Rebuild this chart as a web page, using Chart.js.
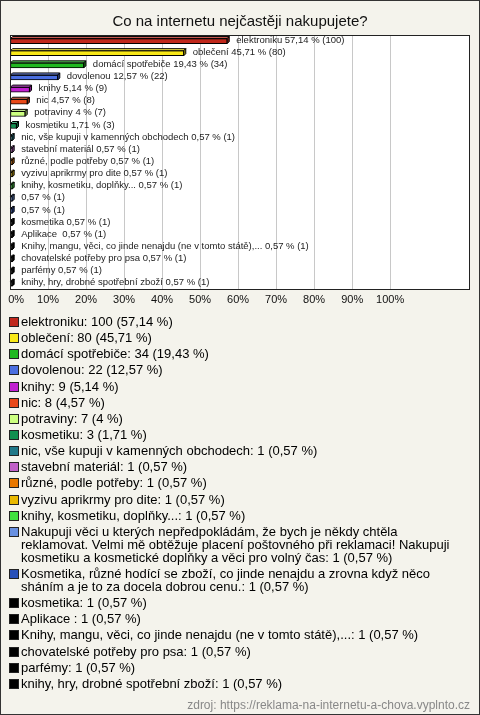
<!DOCTYPE html>
<html>
<head>
<meta charset="utf-8">
<script src="https://cdn.jsdelivr.net/npm/chart.js@4/dist/chart.umd.min.js"></script>
<style>
  html, body { margin: 0; padding: 0; background: #fff; }
  #frame { position: relative; width: 478px; height: 713px; border: 1px solid #333; background: #f4f3ec; overflow: hidden; font-family: Arial, "Liberation Sans", sans-serif; }
  #chartBox { position: absolute; left: -1px; top: -1px; width: 480px; height: 316px; }
  #legend { position: absolute; left: 7px; top: 314px; width: 460px; font-size: 13px; line-height: 13px; color: #000; }
  .item { display: flex; align-items: flex-start; margin-bottom: 3.15px; }
  .mk { flex: 0 0 auto; width: 8px; height: 8px; border: 1px solid #222; margin: 2px 2px 0 1px; }
  .tx { flex: 1 1 auto; }
  #source { position: absolute; right: 9px; top: 697px; font-size: 12px; color: #888; }
</style>
</head>
<body>
<div id="frame">
  <div id="chartBox"><canvas id="c"></canvas></div>
  <div id="legend"></div>
  <div id="source">zdroj: https://reklama-na-internetu-a-chova.vyplnto.cz</div>
</div>
<script>
// ---- data ----
const title = "Co na internetu nejčastěji nakupujete?";
const categories = [
  "elektroniku", "oblečení", "domácí spotřebiče", "dovolenou", "knihy", "nic", "potraviny", "kosmetiku",
  "nic, vše kupuji v kamenných obchodech", "stavební materiál", "různé, podle potřeby", "vyzivu aprikrmy pro dite",
  "knihy, kosmetiku, doplňky...",
  "Nakupuji věci u kterých nepředpokládám, že bych je někdy chtěla reklamovat. Velmi mě obtěžuje placení poštovného při reklamaci! Nakupuji kosmetiku a kosmetické doplňky a věci pro volný čas",
  "Kosmetika, různé hodící se zboží, co jinde nenajdu a zrovna když něco sháním a je to za docela dobrou cenu.",
  "kosmetika", "Aplikace ", "Knihy, mangu, věci, co jinde nenajdu (ne v tomto státě),...",
  "chovatelské potřeby pro psa", "parfémy", "knihy, hry, drobné spotřební zboží"
];
const barLabels = [
  "elektroniku", "oblečení", "domácí spotřebiče", "dovolenou", "knihy", "nic", "potraviny", "kosmetiku",
  "nic, vše kupuji v kamenných obchodech", "stavební materiál", "různé, podle potřeby", "vyzivu aprikrmy pro dite",
  "knihy, kosmetiku, doplňky...", "", "", "kosmetika", "Aplikace ", "Knihy, mangu, věci, co jinde nenajdu (ne v tomto státě),...",
  "chovatelské potřeby pro psa", "parfémy", "knihy, hry, drobné spotřební zboží"
];
const counts = [100, 80, 34, 22, 9, 8, 7, 3, 1, 1, 1, 1, 1, 1, 1, 1, 1, 1, 1, 1, 1];
const percents = [57.14, 45.71, 19.43, 12.57, 5.14, 4.57, 4, 1.71, 0.57, 0.57, 0.57, 0.57, 0.57, 0.57, 0.57, 0.57, 0.57, 0.57, 0.57, 0.57, 0.57];
const percentText = ["57,14", "45,71", "19,43", "12,57", "5,14", "4,57", "4", "1,71", "0,57", "0,57", "0,57", "0,57", "0,57", "0,57", "0,57", "0,57", "0,57", "0,57", "0,57", "0,57", "0,57"];
const colors = ["#c0281c", "#f8e818", "#20b820", "#4a6ee0", "#c020d0", "#e84818", "#ccff80", "#109050",
  "#207888", "#c060c8", "#e87800", "#e8b800", "#40e040", "#6890e0", "#2850b8",
  "#000000", "#000000", "#000000", "#000000", "#000000", "#000000"];
const xTicks = [0, 10, 20, 30, 40, 50, 60, 70, 80, 90, 100];

// ---- helpers ----
function shade(hex, f) {
  const n = parseInt(hex.slice(1), 16);
  let r = (n >> 16) & 255, g = (n >> 8) & 255, b = n & 255;
  if (f < 0) { r = Math.round(r * (1 + f)); g = Math.round(g * (1 + f)); b = Math.round(b * (1 + f)); }
  else { r = Math.round(r + (255 - r) * f); g = Math.round(g + (255 - g) * f); b = Math.round(b + (255 - b) * f); }
  return `rgb(${r},${g},${b})`;
}

const plotBg = {
  id: 'plotBg',
  beforeDraw(chart) {
    const { ctx, chartArea: a } = chart;
    ctx.save();
    ctx.fillStyle = '#ffffff';
    ctx.fillRect(a.left, a.top, a.right - a.left, a.bottom - a.top);
    ctx.restore();
  },
  afterDraw(chart) {
    const { ctx, chartArea: a } = chart;
    ctx.save();
    ctx.strokeStyle = '#222';
    ctx.lineWidth = 1;
    ctx.strokeRect(Math.round(a.left) + 0.5, Math.round(a.top) + 0.5, Math.round(a.right - a.left) - 1, Math.round(a.bottom - a.top) - 1);
    ctx.restore();
  }
};

const bars3d = {
  id: 'bars3d',
  afterDatasetsDraw(chart) {
    const { ctx } = chart;
    const meta = chart.getDatasetMeta(0);
    ctx.save();
    meta.data.forEach((bar, i) => {
      const x0 = bar.base, x1 = bar.x, h = bar.height;
      const top = bar.y - h / 2, bot = bar.y + h / 2;
      const d = 2;
      ctx.lineWidth = 1;
      ctx.strokeStyle = '#000';
      // top face
      ctx.beginPath();
      ctx.moveTo(x0, top); ctx.lineTo(x0 + d, top - d); ctx.lineTo(x1 + d, top - d); ctx.lineTo(x1, top); ctx.closePath();
      ctx.fillStyle = shade(colors[i], 0.25); ctx.fill(); ctx.stroke();
      // side face
      ctx.beginPath();
      ctx.moveTo(x1, top); ctx.lineTo(x1 + d, top - d); ctx.lineTo(x1 + d, bot - d); ctx.lineTo(x1, bot); ctx.closePath();
      ctx.fillStyle = shade(colors[i], -0.35); ctx.fill(); ctx.stroke();
      // label
      ctx.fillStyle = '#222';
      ctx.font = '9.5px Arial, "Liberation Sans", sans-serif';
      ctx.textBaseline = 'middle';
      ctx.textAlign = 'left';
      const name = barLabels[i];
      const txt = (name ? name + ' ' : '') + percentText[i] + ' % (' + counts[i] + ')';
      ctx.fillText(txt, x1 + 9, bar.y - 1);
    });
    ctx.restore();
  }
};

new Chart(document.getElementById('c'), {
  type: 'bar',
  data: {
    labels: categories,
    datasets: [{
      data: percents,
      backgroundColor: colors,
      borderColor: '#000',
      borderWidth: 1,
      borderSkipped: false,
      barThickness: 5,
      minBarLength: 2
    }]
  },
  options: {
    indexAxis: 'y',
    responsive: true,
    maintainAspectRatio: false,
    animation: false,
    layout: { padding: { left: 10, right: 10, bottom: 5, top: 0 } },
    plugins: {
      legend: { display: false },
      tooltip: { enabled: false },
      title: {
        display: true,
        text: title,
        color: '#111',
        font: { family: 'Arial, "Liberation Sans", sans-serif', size: 15, weight: 'normal' },
        padding: { top: 13, bottom: 4 }
      }
    },
    scales: {
      y: { display: false },
      x: {
        min: 0,
        max: 121,
        afterBuildTicks(scale) { scale.ticks = xTicks.map(v => ({ value: v })); },
        afterFit(scale) { scale.paddingLeft = 0; scale.paddingRight = 0; },
        ticks: {
          color: '#111',
          font: { family: 'Arial, "Liberation Sans", sans-serif', size: 11 },
          padding: 4,
          maxRotation: 0,
          autoSkip: false,
          callback: v => (v === 0 ? '    ' : '') + v + '%'
        },
        grid: {
          drawTicks: false,
          color: c => (c.tick && c.tick.value > 0 && c.tick.value <= 100) ? '#c8c8c8' : 'rgba(0,0,0,0)',
          lineWidth: 1
        },
        border: { display: false }
      }
    }
  },
  plugins: [plotBg, bars3d]
});

// ---- legend ----
const leg = document.getElementById('legend');
categories.forEach((name, i) => {
  const row = document.createElement('div');
  row.className = 'item';
  const mk = document.createElement('span');
  mk.className = 'mk';
  mk.style.background = colors[i];
  const tx = document.createElement('span');
  tx.className = 'tx';
  tx.textContent = name + ': ' + counts[i] + ' (' + percentText[i] + ' %)';
  row.appendChild(mk); row.appendChild(tx);
  leg.appendChild(row);
});
</script>
</body>
</html>
